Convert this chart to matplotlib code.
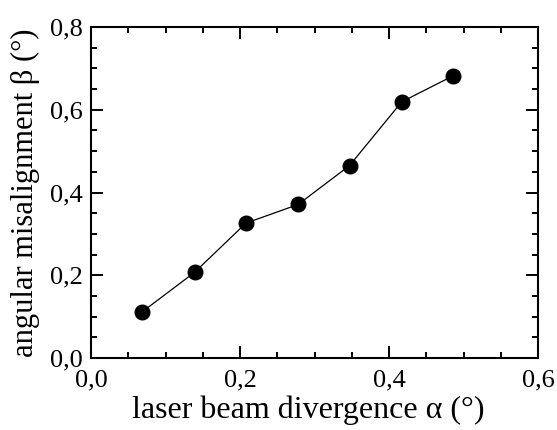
import matplotlib
matplotlib.use("Agg")
import matplotlib.pyplot as plt
from matplotlib.ticker import MultipleLocator

alpha = [0.069, 0.139, 0.208, 0.278, 0.347, 0.417, 0.486]
beta = [0.112, 0.207, 0.326, 0.371, 0.465, 0.619, 0.682]

xticks = [0.0, 0.2, 0.4, 0.6]
xticklabels = ["0,0", "0,2", "0,4", "0,6"]
yticks = [0.0, 0.2, 0.4, 0.6, 0.8]
yticklabels = ["0,0", "0,2", "0,4", "0,6", "0,8"]

plt.rcParams['font.family'] = ['Liberation Serif', 'DejaVu Serif']

fig = plt.figure(figsize=(5.57, 4.30), dpi=100)
ax = fig.add_axes([91/557, 72/430, 447/557, 331/430])

ax.plot(alpha, beta, color='black', lw=0.9, marker='o', ms=10.5,
        markerfacecolor='black', markeredgecolor='black')

ax.set_xlim(0, 0.6)
ax.set_ylim(0, 0.8)
ax.set_xticks(xticks)
ax.set_xticklabels(xticklabels)
ax.set_yticks(yticks)
ax.set_yticklabels(yticklabels)
ax.xaxis.set_minor_locator(MultipleLocator(0.05))
ax.yaxis.set_minor_locator(MultipleLocator(0.05))

ax.tick_params(which='both', direction='in', top=True, right=True, width=1.4,
               labelsize=19, colors='black')
ax.tick_params(which='major', length=8.6)
ax.tick_params(which='minor', length=4.3)
ax.tick_params(axis='x', which='major', pad=8)
ax.tick_params(axis='y', which='major', pad=6)

for s in ax.spines.values():
    s.set_linewidth(1.5)

ax.set_xlabel("laser beam divergence α (°)", fontsize=23)
ax.set_ylabel("angular misalignment β (°)", fontsize=22)
ax.xaxis.set_label_coords(0.485, -0.113)
ax.yaxis.set_label_coords(-0.115, 0.5)

fig.savefig("out.png", dpi=100)
